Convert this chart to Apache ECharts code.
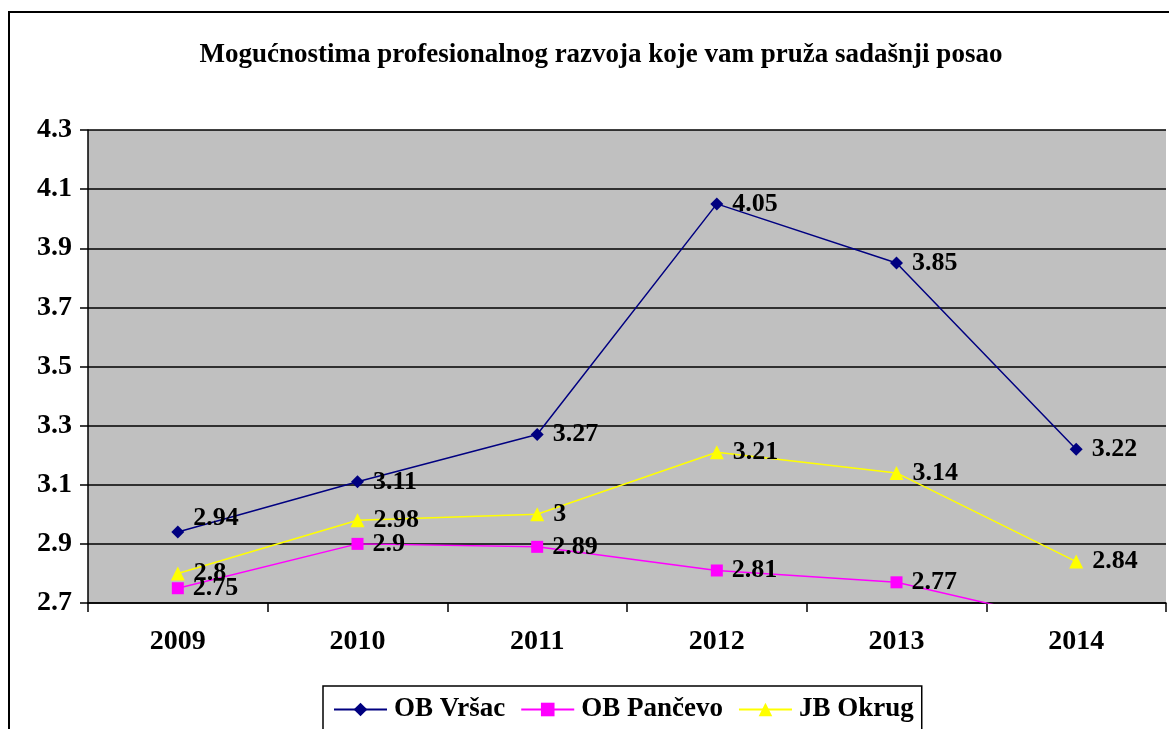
<!DOCTYPE html>
<html>
<head>
<meta charset="utf-8">
<script src="https://cdn.jsdelivr.net/npm/echarts@6/dist/echarts.min.js"></script>
<style>
  html, body { margin: 0; padding: 0; background: #fff; }
  #chart { width: 1169px; height: 729px; }
</style>
</head>
<body>
<div id="chart"></div>
<script>
// data
const years = ['2009', '2010', '2011', '2012', '2013', '2014'];
const vrsac = [2.94, 3.11, 3.27, 4.05, 3.85, 3.22];
const pancevo = [2.75, 2.9, 2.89, 2.81, 2.77, 2.63];
const okrug = [2.8, 2.98, 3, 3.21, 3.14, 2.84];

const serif = '"Liberation Serif", "Times New Roman", serif';

const labelStyle = {
    show: true,
    position: 'right',
    distance: 9,
    color: '#000',
    fontFamily: serif,
    fontWeight: 'bold',
    fontSize: 26,
    formatter: p => String(p.value)
};

const chart = echarts.init(document.getElementById('chart'));
chart.setOption({
    backgroundColor: '#fff',
    animation: false,
    title: {
        text: 'Mogućnostima profesionalnog razvoja koje vam pruža sadašnji posao',
        left: 596,
        textAlign: 'center',
        top: 37,
        textStyle: {
            fontFamily: serif,
            fontWeight: 'bold',
            fontSize: 27,
            color: '#000'
        }
    },
    graphic: [
        {
            type: 'rect',
            shape: { x: 9, y: 12, width: 1200, height: 800 },
            style: { fill: 'none', stroke: '#000', lineWidth: 2 },
            z: -1
        }
    ],
    legend: {
        left: 323,
        top: 686,
        itemGap: 15,
        itemWidth: 53,
        itemHeight: 17,
        padding: [10, 8, 20, 10],
        borderColor: '#000',
        borderWidth: 1.5,
        textStyle: {
            fontFamily: serif,
            fontWeight: 'bold',
            fontSize: 27,
            color: '#000',
            padding: [0, 0, 0, 2]
        }
    },
    grid: {
        left: 88,
        right: 3,
        top: 130,
        bottom: 126,
        show: true,
        backgroundColor: '#c0c0c0',
        borderWidth: 0
    },
    xAxis: {
        type: 'category',
        data: years,
        boundaryGap: true,
        axisLine: { lineStyle: { color: '#000', width: 1.5 } },
        axisTick: { show: true, length: 9, lineStyle: { color: '#000', width: 1.5 } },
        axisLabel: {
            margin: 25,
            color: '#000',
            fontFamily: serif,
            fontWeight: 'bold',
            fontSize: 28
        },
        splitLine: { show: false }
    },
    yAxis: {
        type: 'value',
        min: 2.7,
        max: 4.3,
        interval: 0.2,
        axisLine: { show: true, lineStyle: { color: '#000', width: 1.5 } },
        axisTick: { show: true, length: 8, lineStyle: { color: '#000', width: 1.5 } },
        axisLabel: {
            margin: 16,
            color: '#000',
            fontFamily: serif,
            fontWeight: 'bold',
            fontSize: 28,
            formatter: v => v.toFixed(1)
        },
        splitLine: { show: true, lineStyle: { color: '#000', width: 1.5 } }
    },
    series: [
        {
            name: 'OB Vršac',
            type: 'line',
            data: vrsac.map((v, i) => i === 0
                ? { value: v, label: { position: 'right', offset: [0, -14] } }
                : v),
            symbol: 'diamond',
            symbolSize: 13,
            itemStyle: { color: '#000080' },
            lineStyle: { color: '#000080', width: 1.5 },
            label: labelStyle,
            clip: true
        },
        {
            name: 'OB Pančevo',
            type: 'line',
            data: pancevo,
            symbol: 'rect',
            symbolSize: 12,
            itemStyle: { color: '#ff00ff' },
            lineStyle: { color: '#ff00ff', width: 1.5 },
            label: labelStyle,
            clip: true
        },
        {
            name: 'JB Okrug',
            type: 'line',
            data: okrug,
            symbol: 'triangle',
            symbolSize: 14,
            itemStyle: { color: '#ffff00' },
            lineStyle: { color: '#ffff00', width: 1.5 },
            label: labelStyle,
            clip: true
        }
    ]
});
</script>
</body>
</html>
